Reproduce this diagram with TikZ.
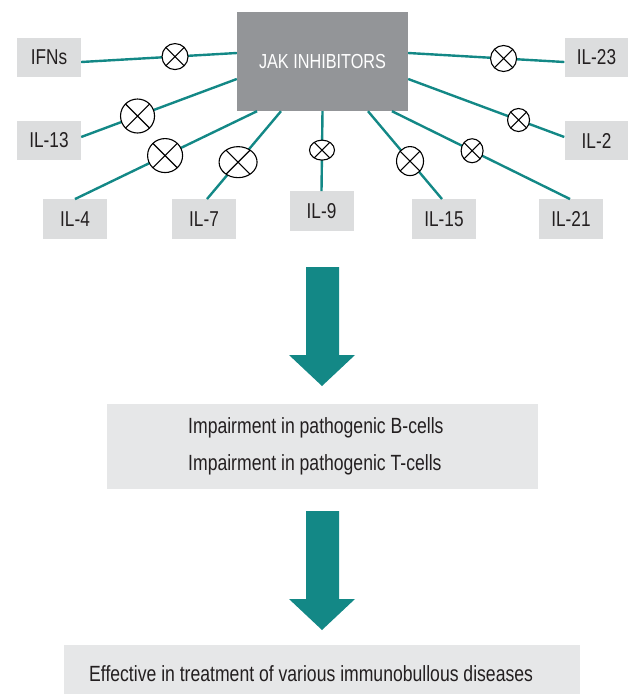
\documentclass[tikz,border=0pt]{standalone}
\usepackage{fontspec}
\setmainfont[FakeStretch=0.8]{Liberation Sans}
\usetikzlibrary{shapes.geometric}
\definecolor{teal1}{HTML}{138886}
\definecolor{jakgray}{HTML}{939598}
\definecolor{labgray}{HTML}{DCDDDE}
\definecolor{boxgray}{HTML}{E6E7E8}
\definecolor{ink}{HTML}{231F20}
\begin{document}
\begin{tikzpicture}[x=1pt,y=-1pt,
  lab/.style={fill=labgray, minimum width=64pt, minimum height=39.5pt, inner sep=0pt, text=ink, font=\fontsize{21.5}{24}\selectfont},
  conn/.style={draw=teal1, line width=2.4pt},
  inh/.style 2 args={ellipse, draw=black, line width=1.1pt, fill=white, minimum width=#1, minimum height=#2, inner sep=0pt, outer sep=0pt},
  xline/.style={draw=black, line width=1.1pt},
  bigarrow/.style={fill=teal1},
  stage/.style={fill=boxgray, inner sep=0pt},
  stagetext/.style={anchor=base west, inner sep=0pt, text=ink, font=\fontsize{22}{24}\selectfont}
]
\useasboundingbox (0,0) rectangle (628,694);

% central box
\node[fill=jakgray, minimum width=171pt, minimum height=99pt, inner sep=0pt, text=white,
      font=\fontsize{20.3}{22}\selectfont] (jak) at (322.5,61.5) {JAK INHIBITORS};

% cytokine labels
\node[lab] (ifns) at (49,57.5) {IFNs};
\node[lab] (il13) at (49,140.5) {IL-13};
\node[lab] (il4) at (75,219) {IL-4};
\node[lab] (il7) at (204,219) {IL-7};
\node[lab] (il9) at (321.5,211) {IL-9};
\node[lab] (il15) at (444,219) {IL-15};
\node[lab] (il21) at (571,219) {IL-21};
\node[lab] (il23) at (596.5,57.5) {IL-23};
\node[lab] (il2) at (596.5,140.5) {IL-2};

% connectors with inhibition symbols
\draw[conn] ([yshift=-4.5pt]ifns.east) -- node[inh={26pt}{26pt},pos=0.603] (x1) {} ([yshift=8.5pt]jak.west);
\draw[conn] ([yshift=3.5pt]il13.east) -- node[inh={34pt}{34pt},pos=0.362] (x2) {} ([yshift=-17.5pt]jak.west);
\draw[conn] (il4.north) -- node[inh={35pt}{34pt},pos=0.495] (x3) {} ([xshift=-65.5pt]jak.south);
\draw[conn] ([xshift=3pt]il7.north) -- node[inh={38pt}{31pt},pos=0.42] (x4) {} ([xshift=-41.5pt]jak.south);
\draw[conn] (il9.north) -- node[inh={25pt}{20pt},pos=0.5125] (x5) {} (jak.south);
\draw[conn] ([xshift=-2pt]il15.north) -- node[inh={27pt}{29pt},pos=0.432] (x6) {} ([xshift=45.5pt]jak.south);
\draw[conn] ([xshift=-1pt]il21.north) -- node[inh={22pt}{24pt},pos=0.55] (x7) {} ([xshift=69.5pt]jak.south);
\draw[conn] ([yshift=3.5pt]il2.west) -- node[inh={22pt}{23pt},pos=0.293] (x8) {} ([yshift=-17.5pt]jak.east);
\draw[conn] ([yshift=-4.5pt]il23.west) -- node[inh={26pt}{26pt},pos=0.389] (x9) {} ([yshift=8.5pt]jak.east);
\foreach \s in {x1,x2,x3,x4,x5,x6,x7,x8,x9}{
  \draw[xline] (\s.45) -- (\s.225) (\s.135) -- (\s.315);
}

% first block arrow
\fill[bigarrow] (306,267) -- (339,267) -- (339,355) -- (355,355) -- (322,386) -- (289,355) -- (306,355) -- cycle;

% middle stage
\node[stage, minimum width=431pt, minimum height=85pt] (box2) at (322.5,446.5) {};
\node[stagetext] (t2a) at (188,433) {Impairment in pathogenic B-cells};
\node[stagetext] (t2b) at (188,470) {Impairment in pathogenic T-cells};

% second block arrow
\fill[bigarrow] (306,511) -- (339,511) -- (339,599) -- (355,599) -- (322,630) -- (289,599) -- (306,599) -- cycle;

% final stage
\node[stage, minimum width=516pt, minimum height=49pt] (box3) at (322,669.5) {};
\node[stagetext] (t3) at (89,681) {Effective in treatment of various immunobullous diseases};
\end{tikzpicture}
\end{document}
